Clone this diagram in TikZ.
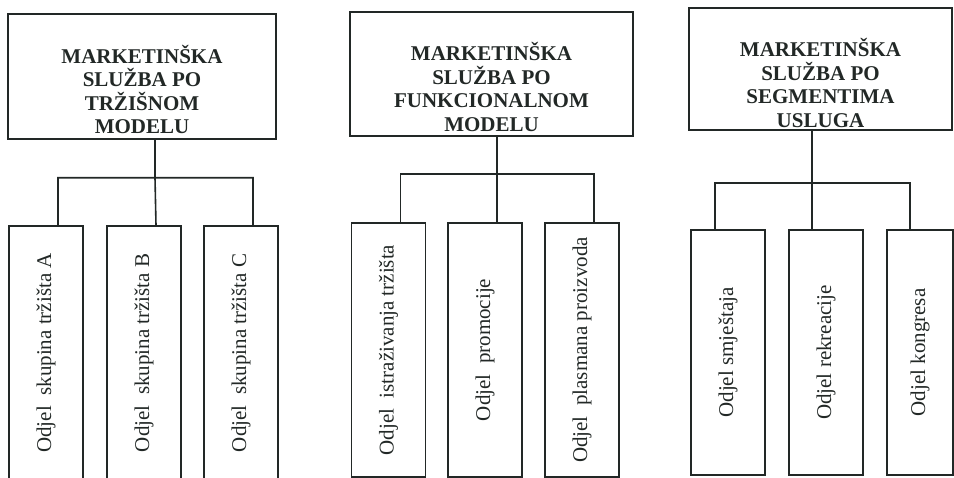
\documentclass[tikz,border=0pt]{standalone}
\usepackage{fontspec}
\setmainfont{Liberation Serif}
\usepackage{graphicx}
\usetikzlibrary{positioning,calc}
\definecolor{inkline}{RGB}{34,40,38}

\begin{document}
\begin{tikzpicture}[x=1pt, y=-1pt,
    headbox/.style={draw=inkline, line width=1.5pt, inner sep=0pt},
    headtext/.style={align=center, text=inkline, font=\fontsize{21}{23.5}\selectfont\bfseries},
    deptbox/.style={draw=inkline, line width=1.5pt, inner sep=0pt, minimum width=74pt, text=inkline, font=\fontsize{21}{24}\selectfont},
    link/.style={draw=inkline, line width=1.6pt}]
            \useasboundingbox (0,0) rectangle (954,478);

            \node[headbox, minimum width=268pt, minimum height=125pt] (M1) at (142,76.5) {};
            \node[headtext] (M1t) at ([yshift=-13pt]M1.center) {MARKETINŠKA\\SLUŽBA PO\\TRŽIŠNOM\\MODELU};
            \node[deptbox, minimum height=254pt] (A1) at (46,353) {\rotatebox{90}{Odjel\ \ skupina tržišta A}};
            \node[deptbox, minimum height=254pt] (B1) at (144,353) {\rotatebox{90}{Odjel\ \ skupina tržišta B}};
            \node[deptbox, minimum height=254pt] (C1) at (241,353) {\rotatebox{90}{Odjel\ \ skupina tržišta C}};
            \draw[link] ([xshift=13pt]M1.south) -- ++(0,38) coordinate (J1);
            \draw[link] ([xshift=12pt]A1.north) |- (J1) -| ([xshift=12pt]C1.north) (J1) -- ([xshift=12pt]B1.north);

            \node[headbox, minimum width=283pt, minimum height=124pt] (M2) at (491.5,74) {};
            \node[headtext] (M2t) at ([yshift=-13pt]M2.center) {MARKETINŠKA\\SLUŽBA PO\\FUNKCIONALNOM\\MODELU};
            \node[deptbox, minimum height=254pt] (A2) at (388.5,350) {\rotatebox{90}{Odjel\ \ istraživanja tržišta}};
            \node[deptbox, minimum height=254pt] (B2) at (485,350) {\rotatebox{90}{Odjel\ \ promocije}};
            \node[deptbox, minimum height=254pt] (C2) at (582,350) {\rotatebox{90}{Odjel\ \ plasmana proizvoda}};
            \draw[link] ([xshift=5.5pt]M2.south) -- ++(0,37) coordinate (J2);
            \draw[link] ([xshift=12pt]A2.north) |- (J2) -| ([xshift=12pt]C2.north) (J2) -- ([xshift=12pt]B2.north);

            \node[headbox, minimum width=263pt, minimum height=122pt] (M3) at (820.5,69) {};
            \node[headtext] (M3t) at ([yshift=-14pt]M3.center) {MARKETINŠKA\\SLUŽBA PO\\SEGMENTIMA\\USLUGA};
            \node[deptbox, minimum height=245pt] (A3) at (728,352.5) {\rotatebox{90}{Odjel smještaja}};
            \node[deptbox, minimum height=245pt] (B3) at (826,352.5) {\rotatebox{90}{Odjel rekreacije}};
            \node[deptbox, minimum height=245pt, minimum width=66pt] (C3) at (920,352.5) {\rotatebox{90}{Odjel kongresa}};
            \draw[link] ([xshift=-8.5pt]M3.south) -- ++(0,52) coordinate (J3);
            \draw[link] ([xshift=-13pt]A3.north) |- (J3) -| ([xshift=-10pt]C3.north) (J3) -- ([xshift=-14pt]B3.north);
    \end{tikzpicture}
\end{document}
